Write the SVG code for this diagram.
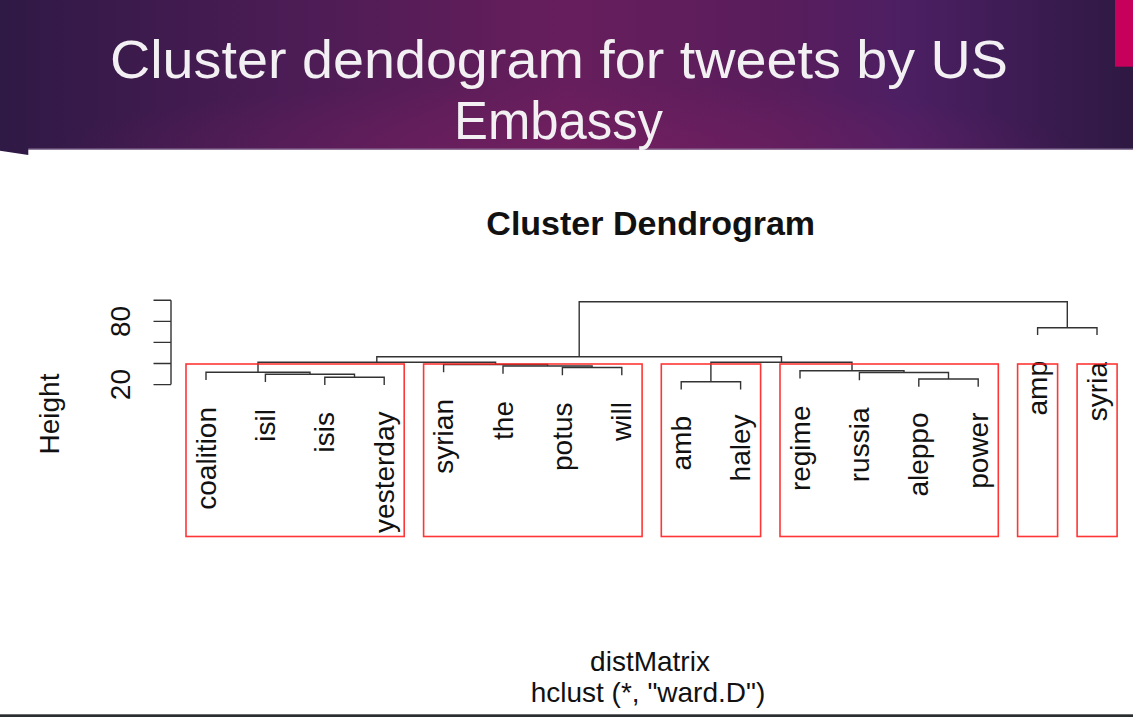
<svg xmlns="http://www.w3.org/2000/svg" width="1133" height="717" viewBox="0 0 1133 717">
<defs>
<linearGradient id="hdr" x1="0" y1="0" x2="1" y2="0">
<stop offset="0" stop-color="#2f1945"/>
<stop offset="0.25" stop-color="#4b1c55"/>
<stop offset="0.5" stop-color="#671e5c"/>
<stop offset="0.68" stop-color="#5a1d5c"/>
<stop offset="0.8" stop-color="#4c1f63"/>
<stop offset="0.92" stop-color="#3a1b50"/>
<stop offset="1" stop-color="#2e1942"/>
</linearGradient>
<radialGradient id="glow" cx="0.5" cy="1" r="0.45" fx="0.52" fy="1">
<stop offset="0" stop-color="#7a2062" stop-opacity="0.55"/>
<stop offset="1" stop-color="#7a2062" stop-opacity="0"/>
</radialGradient>
<style>
.hd{font-family:"Liberation Sans",Arial,sans-serif;font-size:54px;fill:#f2f0f2;text-anchor:middle}
.lbl{font-family:"Liberation Sans",Arial,sans-serif;font-size:28px;fill:#111;text-anchor:end}
.ax{font-family:"Liberation Sans",Arial,sans-serif;font-size:28px;fill:#111;text-anchor:middle}
.ttl{font-family:"Liberation Sans",Arial,sans-serif;font-size:34px;font-weight:bold;fill:#111;text-anchor:middle}
.ln{fill:none;stroke:#333;stroke-width:1.4}
.rc{fill:none;stroke:#ff2020;stroke-width:1.6;stroke-opacity:0.9}
</style>
</defs>
<rect x="0" y="0" width="1133" height="717" fill="#ffffff"/>
<g id="header">
<polygon points="0,0 1133,0 1133,149.5 28.3,149.5 28.3,155 0,150.7" fill="url(#hdr)"/>
<rect x="0" y="0" width="1133" height="149.5" fill="url(#glow)"/>
<line x1="28.3" y1="149" x2="1133" y2="149" stroke="#8a7398" stroke-width="1.2"/>
<rect x="1115" y="0" width="18" height="66.7" fill="#c6005b"/>
<text class="hd" x="559" y="78.3" textLength="898" lengthAdjust="spacingAndGlyphs">Cluster dendogram for tweets by US</text>
<text class="hd" x="558.5" y="139.3" textLength="209" lengthAdjust="spacingAndGlyphs">Embassy</text>
</g>
<rect x="0" y="714.3" width="1133" height="2.7" fill="#2a2e30"/>
<g id="plot-title">
<text class="ttl" x="650.7" y="235">Cluster Dendrogram</text>
<text class="ax" x="650" y="670.7">distMatrix</text>
<text class="ax" x="648" y="701.7">hclust (*, "ward.D")</text>
</g>
<g id="axis">
<path class="ln" d="M171 300.3 V384.6 M153.5 300.3 H171 M153.5 321.4 H171 M153.5 342.4 H171 M153.5 363.5 H171 M153.5 384.6 H171"/>
<text class="ax" transform="translate(129.5,384.6) rotate(-90)">20</text>
<text class="ax" transform="translate(129.5,321.4) rotate(-90)">80</text>
<text class="ax" transform="translate(58.5,414) rotate(-90)">Height</text>
</g>
<g id="connectors">
<path class="ln" d="M324.8 385 V377.3 H384.2 V385"/>
<path class="ln" d="M265.4 382 V374.3 H354.5 V377.3"/>
<path class="ln" d="M206 380 V372.3 H310 V374.3"/>
<path class="ln" d="M562.4 375.2 V367.5 H621.8 V375.2"/>
<path class="ln" d="M503 373.7 V366 H592.1 V367.5"/>
<path class="ln" d="M443.6 372.2 V364.5 H547.6 V366"/>
<path class="ln" d="M258 372.3 V362.3 H495.6 V364.5"/>
<path class="ln" d="M681.2 389.4 V381.7 H740.6 V389.4"/>
<path class="ln" d="M918.8 386.7 V379 H978.2 V386.7"/>
<path class="ln" d="M859.4 380.2 V372.5 H948.5 V379"/>
<path class="ln" d="M800 378.4 V370.7 H904 V372.5"/>
<path class="ln" d="M710.9 381.7 V362.3 H852 V370.7"/>
<path class="ln" d="M376.8 362.3 V356.7 H781.5 V362.3"/>
<path class="ln" d="M1037.6 335 V327.7 H1097 V335"/>
<path class="ln" d="M579.2 356.7 V301.7 H1067.3 V327.7"/>
</g>
<g id="leaf-coalition"><text class="lbl" transform="translate(215.5,407) rotate(-90)">coalition</text></g>
<g id="leaf-isil"><text class="lbl" transform="translate(274.9,409) rotate(-90)">isil</text></g>
<g id="leaf-isis"><text class="lbl" transform="translate(334.3,412) rotate(-90)">isis</text></g>
<g id="leaf-yesterday"><text class="lbl" transform="translate(393.7,411.5) rotate(-90)">yesterday</text></g>
<g id="leaf-syrian"><text class="lbl" transform="translate(453.1,399) rotate(-90)">syrian</text></g>
<g id="leaf-the"><text class="lbl" transform="translate(512.5,401) rotate(-90)">the</text></g>
<g id="leaf-potus"><text class="lbl" transform="translate(571.9,402.5) rotate(-90)">potus</text></g>
<g id="leaf-will"><text class="lbl" transform="translate(631.3,402) rotate(-90)">will</text></g>
<g id="leaf-amb"><text class="lbl" transform="translate(690.7,416) rotate(-90)">amb</text></g>
<g id="leaf-haley"><text class="lbl" transform="translate(750.1,414.5) rotate(-90)">haley</text></g>
<g id="leaf-regime"><text class="lbl" transform="translate(809.5,405.5) rotate(-90)">regime</text></g>
<g id="leaf-russia"><text class="lbl" transform="translate(868.9,407.5) rotate(-90)">russia</text></g>
<g id="leaf-aleppo"><text class="lbl" transform="translate(928.3,412.5) rotate(-90)">aleppo</text></g>
<g id="leaf-power"><text class="lbl" transform="translate(987.7,412.5) rotate(-90)">power</text></g>
<g id="leaf-amp"><text class="lbl" transform="translate(1047.1,361) rotate(-90)">amp</text></g>
<g id="leaf-syria"><text class="lbl" transform="translate(1106.5,362) rotate(-90)">syria</text></g>
<g id="cluster-1"><rect class="rc" x="186" y="364" width="218.2" height="172.5"/></g>
<g id="cluster-2"><rect class="rc" x="423.6" y="364" width="218.5" height="172.5"/></g>
<g id="cluster-3"><rect class="rc" x="661.3" y="364" width="99.3" height="172.5"/></g>
<g id="cluster-4"><rect class="rc" x="780" y="364" width="218.3" height="172.5"/></g>
<g id="cluster-5"><rect class="rc" x="1017.6" y="364" width="40" height="172.5"/></g>
<g id="cluster-6"><rect class="rc" x="1077.1" y="364" width="40" height="172.5"/></g>
</svg>
